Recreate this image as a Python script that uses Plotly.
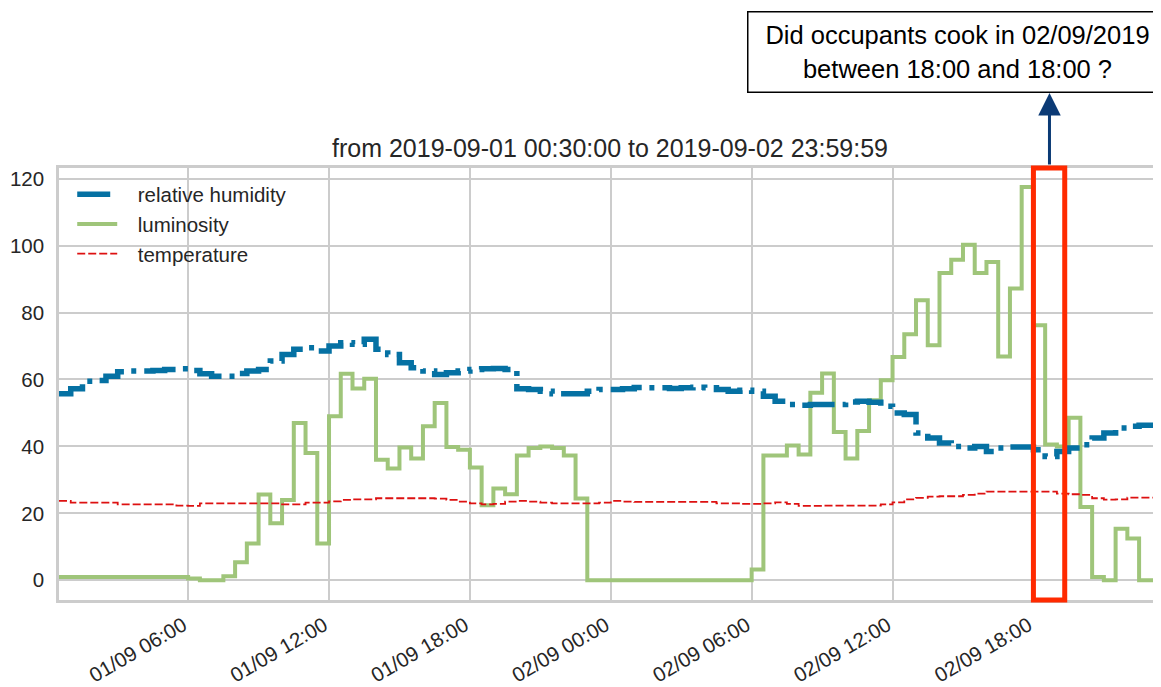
import pandas as pd
import plotly.graph_objects as go

# --- data (30-minute samples starting 2019-09-01 00:30) ---
start_time = "2019-09-01 00:30"
n_samples = 95

luminosity = [1, 1, 1, 1, 1, 1, 1, 1, 1, 1, 1, 0.5, 0, 0, 1.2, 5.4, 11, 25.6, 17, 24,
              47, 38, 11, 49, 61.7, 57.3, 60.2, 36, 33.4, 39.7, 36.4, 46, 53, 39.8, 39, 33.7,
              22.4, 27.4, 25.7, 37.3, 39.5, 40, 39.5, 37.3, 24.4,
              0, 0, 0, 0, 0, 0, 0, 0, 0, 0, 0, 0, 0, 0,
              3.2, 37.3, 37.3, 40.3, 37.6, 56, 61.8, 44.3, 36.4, 44.6, 53.8, 59.8, 66.7, 73.5,
              83.7, 70.2, 91.8, 95.8, 100.3, 91.8, 95.1, 66.9, 87.2, 117.5, 76.2, 40.6, 40,
              48.6, 21.9, 1, 0, 15.4, 12.5, 0, 0, 0]

humidity = [55.7, 57.2, 59.5, 59.7, 61, 62.3, 62.5, 62.5, 62.7, 63, 63.2, 62.7, 61.7, 61,
            61, 61.8, 62.5, 63, 65.5, 67.5, 69, 69.5, 68.5, 70, 71, 70.5, 72, 69, 67.5, 65,
            63.5, 62.5, 61.5, 62, 62.5, 63, 63.2, 63.3, 63, 57.2, 57, 56.5, 55.7, 55.7, 55.7,
            56.5, 57, 57, 57.2, 57.6, 57.5, 57.5, 57.3, 57.5, 57.7, 57.5, 57, 56.5, 56.8,
            56.5, 55, 53.5, 52.5, 52.3, 52.5, 52.5, 52.5, 53.3, 53.5, 53.2, 52, 50, 49.5, 44,
            42.5, 41, 40, 39.5, 40, 38.5, 39.5, 39.8, 39.8, 39, 37, 38.5, 39.5, 40.5, 42.5,
            44, 45.5, 46, 46.3, 46.3, 40]

temperature = [23.7, 23.2, 23.2, 23.2, 23.2, 22.7, 22.7, 22.7, 22.7, 22.7, 22.3, 22.2,
               23, 23, 23, 23, 23, 23, 23, 22.7, 22.7, 23.2, 23.2, 23.6, 24, 24.2, 24.2,
               24.5, 24.5, 24.5, 24.5, 24.5, 24.4, 24, 23.5, 23, 22.7, 22.8, 23.5, 23.7,
               23.5, 23.2, 23, 23, 23, 23, 23.2, 23.7, 23.5, 23.4, 23.4, 23.4, 23.4, 23.4,
               23.4, 23.4, 23, 23, 22.8, 22.8, 23, 23.3, 22.8, 22.2, 22.2, 22.3, 22.3, 22.3,
               22.3, 22.3, 22.7, 23.3, 24.2, 24.6, 25, 25.1, 25.1, 25.5, 25.9, 26.5, 26.5,
               26.5, 26.5, 26.5, 26.5, 25.9, 25.7, 25.5, 24.5, 24.1, 24.2, 24.7, 24.7, 24.7,
               24.7]

tick_times = ["2019-09-01 06:00", "2019-09-01 12:00", "2019-09-01 18:00", "2019-09-02 00:00",
              "2019-09-02 06:00", "2019-09-02 12:00", "2019-09-02 18:00"]
tick_labels = ["01/09 06:00", "01/09 12:00", "01/09 18:00", "02/09 00:00",
               "02/09 06:00", "02/09 12:00", "02/09 18:00"]
y_ticks = [0, 20, 40, 60, 80, 100, 120]

series_names = ["relative humidity", "luminosity", "temperature"]
title_text = "from 2019-09-01 00:30:00 to 2019-09-02 23:59:59"
question_text = "Did occupants cook in 02/09/2019<br>between 18:00 and 18:00 ?"
highlight_start = "2019-09-02 18:00"
highlight_end = "2019-09-02 19:20"
arrow_time = "2019-09-02 18:41"

times = pd.date_range(start_time, periods=n_samples, freq="30min")

FONT = "Liberation Sans, Arial, Helvetica, sans-serif"
TXT = "#262626"
GRID = "#cccccc"
PAD = "\u00a0\u00a0\u2009"

# the page adds an 8px body margin, so the figure is 8px smaller than the window
W, H = 1153, 679

fig = go.Figure()
fig.add_trace(go.Scatter(
    x=times, y=luminosity, name=PAD + series_names[1], mode="lines", line_shape="hv",
    line=dict(color="#9fc57a", width=4), legendrank=2))
fig.add_trace(go.Scatter(
    x=times, y=humidity, name=PAD + series_names[0], mode="lines", line_shape="hv",
    line=dict(color="#0571a3", width=5.5, dash="33px,8px,5px,8px"), legendrank=1))
fig.add_trace(go.Scatter(
    x=times, y=temperature, name=PAD + series_names[2], mode="lines", line_shape="hv",
    line=dict(color="#dd1111", width=1.8, dash="8px,3px"), legendrank=3))

fig.add_shape(type="rect", xref="x", yref="paper",
              x0=highlight_start, x1=highlight_end, y0=0.0, y1=1.0,
              line=dict(color="#ff2a00", width=5), fillcolor="rgba(0,0,0,0)", layer="above")

# arrow pointing up to the question box
fig.add_annotation(x=arrow_time, xref="x", y=1.1736, yref="paper",
                   ax=0, ay=73, axref="pixel", ayref="pixel", text="", showarrow=True,
                   arrowhead=2, arrowsize=1.5, arrowwidth=3, arrowcolor="#0b3a75", standoff=0)

fig.add_annotation(x=0.8150, xref="paper", y=1.3634, yref="paper",
                   xanchor="center", yanchor="top", showarrow=False,
                   text=question_text, align="center",
                   font=dict(family=FONT, size=25.5, color="#000000"),
                   width=416, height=77, borderpad=1,
                   bordercolor="#000000", borderwidth=1.5, bgcolor="white")

fig.update_layout(
    width=W, height=H,
    margin=dict(l=51, r=0, t=160, b=87, autoexpand=False),
    paper_bgcolor="white", plot_bgcolor="white",
    font=dict(family=FONT, color=TXT),
    title=dict(text=title_text, x=0.5, xref="paper", xanchor="center",
               y=1 - 140 / H, yref="container", yanchor="middle",
               font=dict(family=FONT, size=25, color=TXT)),
    legend=dict(x=0.012, y=0.985, xanchor="left", yanchor="top",
                bgcolor="rgba(0,0,0,0)", font=dict(family=FONT, size=20.5, color=TXT),
                itemwidth=40, tracegroupgap=0),
    showlegend=True,
)

fig.update_xaxes(
    type="date", range=["2019-09-01 00:30", "2019-09-02 23:26"], automargin=False,
    tickmode="array", tickvals=tick_times,
    ticktext=[lbl + "\u00a0" for lbl in tick_labels], tickangle=-30,
    tickfont=dict(family=FONT, size=20.5, color=TXT),
    showgrid=True, gridcolor=GRID, gridwidth=2, zeroline=False,
    showline=True, linecolor=GRID, linewidth=2.5, mirror=True, ticks="",
    ticklabelstandoff=0)
fig.update_yaxes(
    range=[-5.9, 123.2], tickmode="array", tickvals=y_ticks, automargin=False,
    tickfont=dict(family=FONT, size=20.5, color=TXT),
    showgrid=True, gridcolor=GRID, gridwidth=2, zeroline=False,
    showline=True, linecolor=GRID, linewidth=2.5, mirror=False, ticks="",
    ticklabelstandoff=8)

fig.write_html("out.html")
